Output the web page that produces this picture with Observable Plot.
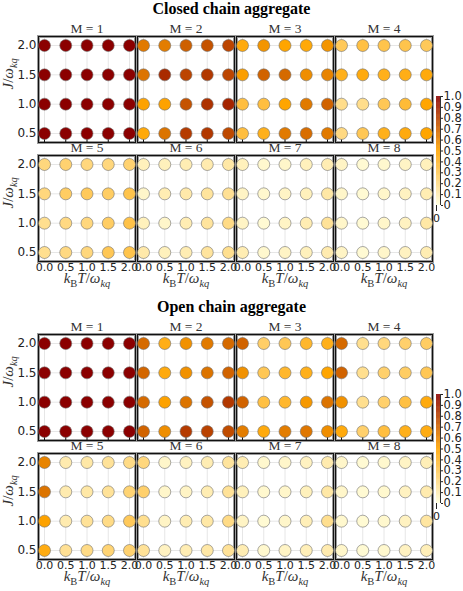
<!DOCTYPE html>
<html>
<head>
<meta charset="utf-8">
<script src="https://cdn.jsdelivr.net/npm/d3@7"></script>
<script src="https://cdn.jsdelivr.net/npm/@observablehq/plot@0.6"></script>
<style>
  body { margin: 0; background: #fff; }
  .section { position: relative; width: 463px; }
  .title { height: 20px; line-height: 21px; text-align: center; font: bold 16px "Liberation Serif", serif; color: #000; }
  .cbar { position: absolute; left: 430px; top: 86px; }
</style>
</head>
<body>
<div id="chart"></div>
<script>
// ---- data ----
const temperatures = [0, 0.5, 1, 1.5, 2];          // k_B T / ω_kq
const couplings = [2, 1.5, 1, 0.5];                 // J / ω_kq (rows, top to bottom)
const chainLengths = [1, 2, 3, 4, 5, 6, 7, 8];      // M
const colorbarTicks = [0, 0.1, 0.2, 0.3, 0.4, 0.5, 0.6, 0.7, 0.8, 0.9, 1];
const sectionTitles = ["Closed chain aggregate", "Open chain aggregate"];

// each entry: rows J = 2.0, 1.5, 1.0, 0.5; columns kT = 0, 0.5, 1, 1.5, 2
const closedChain = [
  [[1,1,1,1,1],[1,1,1,1,1],[1,1,1,1,1],[1,1,1,1,1]],
  [[0.63,0.62,0.71,0.75,0.79],[0.65,0.87,0.79,0.83,0.79],[0.51,0.51,0.75,0.85,0.89],[0.48,0.65,0.82,0.83,0.78]],
  [[0.47,0.55,0.50,0.48,0.55],[0.52,0.70,0.68,0.57,0.60],[0.36,0.36,0.50,0.63,0.70],[0.36,0.44,0.63,0.67,0.63]],
  [[0.30,0.35,0.33,0.33,0.30],[0.44,0.47,0.44,0.45,0.47],[0.19,0.19,0.31,0.38,0.50],[0.21,0.31,0.44,0.47,0.50]],
  [[0.22,0.25,0.22,0.22,0.25],[0.22,0.28,0.30,0.28,0.33],[0.18,0.21,0.22,0.28,0.34],[0.18,0.21,0.22,0.31,0.33]],
  [[0.08,0.08,0.10,0.11,0.13],[0.05,0.10,0.12,0.15,0.17],[0.08,0.05,0.10,0.15,0.20],[0.12,0.08,0.10,0.15,0.18]],
  [[0.08,0.04,0.05,0.08,0.10],[0.06,0.04,0.06,0.08,0.13],[0.06,0.03,0.06,0.10,0.16],[0.10,0.04,0.06,0.08,0.11]],
  [[0.06,0.03,0.04,0.06,0.08],[0.05,0.03,0.05,0.07,0.10],[0.05,0.03,0.05,0.07,0.13],[0.06,0.03,0.05,0.07,0.10]]
];
const openChain = [
  [[1,1,1,1,1],[1,1,1,1,1],[1,1,1,1,1],[1,1,1,1,1]],
  [[0.68,0.45,0.56,0.63,0.68],[0.69,0.47,0.56,0.65,0.70],[0.68,0.51,0.65,0.75,0.83],[0.70,0.57,0.82,0.80,0.77]],
  [[0.70,0.27,0.31,0.40,0.44],[0.56,0.31,0.40,0.44,0.50],[0.70,0.35,0.40,0.54,0.65],[0.62,0.47,0.62,0.64,0.57]],
  [[0.68,0.18,0.22,0.26,0.28],[0.70,0.18,0.26,0.28,0.31],[0.56,0.18,0.26,0.35,0.47],[0.47,0.26,0.36,0.44,0.46]],
  [[0.60,0.11,0.13,0.16,0.20],[0.65,0.11,0.13,0.16,0.24],[0.51,0.11,0.16,0.20,0.30],[0.46,0.17,0.20,0.24,0.25]],
  [[0.22,0.05,0.07,0.10,0.15],[0.26,0.05,0.06,0.10,0.16],[0.18,0.06,0.10,0.13,0.20],[0.16,0.07,0.10,0.13,0.16]],
  [[0.10,0.04,0.05,0.07,0.11],[0.08,0.04,0.05,0.08,0.13],[0.06,0.03,0.05,0.09,0.18],[0.10,0.04,0.06,0.09,0.11]],
  [[0.05,0.03,0.04,0.06,0.09],[0.05,0.03,0.04,0.07,0.11],[0.04,0.03,0.04,0.07,0.14],[0.05,0.03,0.04,0.07,0.09]]
];

// ---- helpers ----
const colorScale = {
  type: "linear",
  domain: [0, 0.5, 1],
  range: ["#ffffe0", "#ffa500", "#8b0000"],
  interpolate: "rgb"
};

function toRows(values) {
  const rows = [];
  values.forEach((mat, i) => {
    mat.forEach((r, ri) => {
      r.forEach((v, ci) => {
        rows.push({M: chainLengths[i], col: i % 4, row: Math.floor(i / 4), J: couplings[ri], T: temperatures[ci], v});
      });
    });
  });
  return rows;
}

const facets = chainLengths.map((M, i) => ({M, col: i % 4, row: Math.floor(i / 4)}));
const topTicks = facets.filter(f => f.row === 0).flatMap(f => temperatures.map(T => ({col: f.col, row: f.row, T})));

function makeMain(values, height, marginBottom) {
  const data = toRows(values);
  return Plot.plot({
    width: 463, height,
    marginLeft: 37, marginRight: 29, marginTop: 15, marginBottom,
    style: {fontFamily: "'DejaVu Sans', sans-serif", fontSize: "12px", color: "#222", background: "#fff", overflow: "visible"},
    fx: {domain: [0, 1, 2, 3], paddingInner: 0.02, paddingOuter: 0, axis: null},
    fy: {domain: [0, 1], paddingInner: 0.108, paddingOuter: 0, axis: null},
    x: {domain: [0, 2], inset: 6},
    y: {domain: [0.5, 2], inset: 9},
    color: colorScale,
    marks: [
      Plot.ruleX(temperatures, {stroke: "#e6e6e6"}),
      Plot.ruleY(couplings, {stroke: "#e6e6e6"}),
      Plot.frame({stroke: "#9a9a9a", strokeWidth: 3}),
      Plot.frame({stroke: "#111", strokeWidth: 1}),
      Plot.tickX(topTicks, {x: "T", fx: "col", fy: "row", insetTop: 103, stroke: "#111", strokeWidth: 1}),
      Plot.dot(data, {x: "T", y: "J", fx: "col", fy: "row", r: 6, fill: "v", stroke: "#6e6e6e", strokeWidth: 0.6}),
      Plot.axisX(temperatures, {tickFormat: d3.format(".1f"), tickSize: 0, tickPadding: 2, fontSize: 11, fill: "#222", label: null}),
      Plot.axisY(couplings, {tickFormat: d3.format(".1f"), tickSize: 0, tickPadding: 2, fontSize: 12, fill: "#222", label: null}),
      Plot.text(facets, {fx: "col", fy: "row", text: d => `M = ${d.M}`, frameAnchor: "top", lineAnchor: "middle", dy: -8,
        fontFamily: "'Liberation Serif', serif", fontSize: 13.5, fill: "#333"}),
      Plot.text([0, 1], {fx: () => 0, fy: d => d, text: () => "J/ωkq", frameAnchor: "left", lineAnchor: "middle", dx: -30, rotate: -90,
        fontFamily: "'Liberation Serif', serif", fontSize: 15, fill: "#333"}),
      Plot.text([0, 1, 2, 3], {fx: d => d, fy: () => 1, text: () => "kBT/ωkq", frameAnchor: "bottom", lineAnchor: "middle", dy: 17,
        fontFamily: "'Liberation Serif', serif", fontSize: 15, fill: "#333"})
    ]
  });
}

function richText(svg) {
  d3.select(svg).selectAll("text").each(function() {
    const t = d3.select(this);
    const s = this.textContent;
    if (s === "J/ωkq") {
      this.textContent = "";
      t.append("tspan").attr("font-style", "italic").text("J");
      t.append("tspan").text("/");
      t.append("tspan").attr("font-style", "italic").text("ω");
      t.append("tspan").attr("font-style", "italic").attr("font-size", 10.5).attr("dy", 3.5).text("kq");
    } else if (s === "kBT/ωkq") {
      this.textContent = "";
      t.append("tspan").attr("font-style", "italic").text("k");
      t.append("tspan").attr("font-size", 10.5).attr("dy", 3.5).text("B");
      t.append("tspan").attr("font-style", "italic").attr("dy", -3.5).text("T");
      t.append("tspan").text("/");
      t.append("tspan").attr("font-style", "italic").text("ω");
      t.append("tspan").attr("font-style", "italic").attr("font-size", 10.5).attr("dy", 3.5).text("kq");
    }
  });
}

function makeColorbar() {
  const steps = d3.range(0, 1, 0.005);
  return Plot.plot({
    width: 33, height: 130,
    marginLeft: 6, marginRight: 23, marginTop: 10, marginBottom: 11,
    style: {fontFamily: "'DejaVu Sans', sans-serif", fontSize: "11px", color: "#222", background: "transparent", overflow: "visible"},
    x: {domain: [0, 1]},
    y: {domain: [0, 1]},
    color: colorScale,
    marks: [
      Plot.rect(steps, {x1: 0, x2: 1, y1: d => d, y2: d => Math.min(1, d + 0.007), fill: d => d + 0.0025}),
      Plot.ruleX([1], {y1: 0, y2: 1, stroke: "#333", strokeWidth: 1}),
      Plot.axisY(colorbarTicks, {anchor: "right", tickFormat: d => d === 0 ? "0" : d.toFixed(1), tickSize: 2, tickPadding: 1, fontSize: 11.5, fill: "#222", label: null})
    ]
  });
}

const root = document.getElementById("chart");
[[closedChain, 278, 36], [openChain, 273, 31]].forEach(([vals, h, mb], k) => {
  const sec = document.createElement("div");
  sec.className = "section";
  const title = document.createElement("div");
  title.className = "title";
  title.textContent = sectionTitles[k];
  sec.appendChild(title);
  const svg = makeMain(vals, h, mb);
  richText(svg);
  sec.appendChild(svg);
  const cb = makeColorbar();
  cb.classList.add("cbar");
  sec.appendChild(cb);
  root.appendChild(sec);
});
</script>
</body>
</html>
